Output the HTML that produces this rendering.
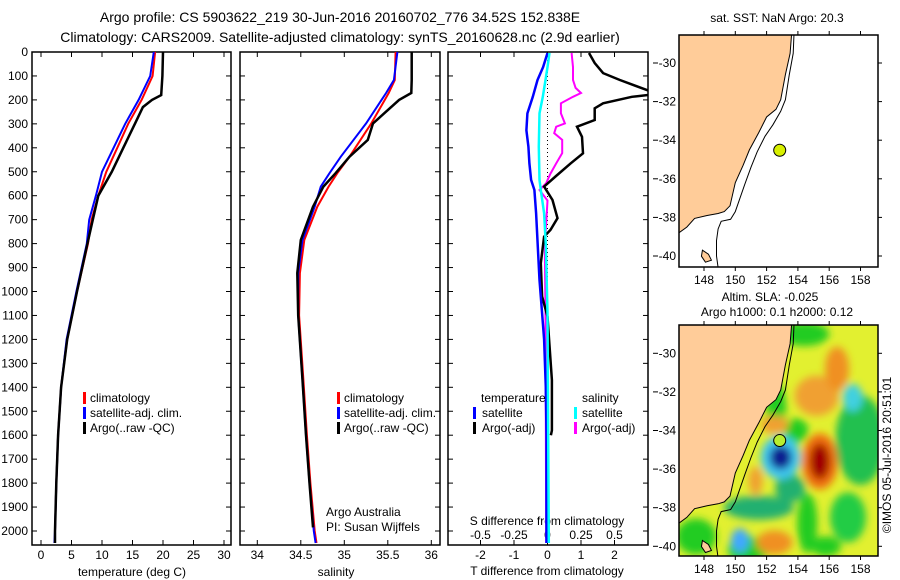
<!DOCTYPE html>
<html><head><meta charset="utf-8">
<style>
html,body{margin:0;padding:0;background:#fff;}
svg{display:block;font-family:"Liberation Sans",sans-serif;}
</style></head>
<body>
<svg id="fig" width="900" height="580" viewBox="0 0 900 580" xmlns="http://www.w3.org/2000/svg">
<defs>
<clipPath id="c1"><rect x="32" y="52" width="199" height="493"/></clipPath>
<clipPath id="c2"><rect x="240" y="52" width="200" height="493"/></clipPath>
<clipPath id="c3"><rect x="448" y="52" width="200" height="493"/></clipPath>
<clipPath id="cm1"><rect x="679" y="35" width="199" height="232"/></clipPath>
<clipPath id="cm2"><rect x="679" y="325" width="199" height="231"/></clipPath>
<filter id="blur" x="-50%" y="-50%" width="200%" height="200%"><feGaussianBlur stdDeviation="4"/></filter>
</defs>
<text x="340" y="22" font-size="14" text-anchor="middle">Argo profile: CS 5903622_219 30-Jun-2016 20160702_776 34.52S 152.838E</text>
<text x="340" y="42" font-size="14" text-anchor="middle">Climatology: CARS2009. Satellite-adjusted climatology: synTS_20160628.nc (2.9d earlier)</text>
<g id="root"></g>
</svg>
<script>
// ---------- data ----------
const depthTickLabels = [0,100,200,300,400,500,600,700,800,900,1000,1100,1200,1300,1400,1500,1600,1700,1800,1900,2000];
const tempTickLabels = [0,5,10,15,20,25,30];
const salTickLabels = [34,34.5,35,35.5,36];
const tdiffTickLabels = [-2,-1,0,1,2];
const sdiffTickLabels = [-0.5,-0.25,0,0.25,0.5];
const sdiffTickText = ["-0.5","-0.25","0","0.25","0.5"];

const argoTDepth = [0,100,180,200,230,300,400,500,600,700,800,1000,1200,1400,1600,1800,2000,2050];
const argoTemp = [20.0,19.9,19.7,18.2,16.7,15.4,13.5,11.6,9.4,8.5,7.6,5.9,4.3,3.3,2.8,2.5,2.3,2.3];
const climTDepth = [0,100,200,300,400,500,600,700,800,1000,1200,1400,1600,1800,2000,2050];
const climTemp = [18.7,18.3,16.5,14.3,12.5,10.7,9.4,8.3,7.7,5.9,4.3,3.3,2.8,2.5,2.3,2.3];
const satTemp = [18.5,17.9,16.0,13.8,11.9,10.0,9.0,7.9,7.5,5.8,4.2,3.3,2.8,2.5,2.3,2.2];

const argoSDepth = [0,117,171,200,298,367,437,506,562,646,785,923,1100,1370,1600,1800,1985];
const argoSal = [35.775,35.775,35.77,35.63,35.33,35.27,35.06,34.90,34.76,34.64,34.50,34.46,34.47,34.52,34.56,34.60,34.64];
const climSDepth = [0,117,171,298,437,506,562,646,785,923,1100,1370,1600,1800,2000,2050];
const climSal = [35.59,35.58,35.51,35.31,35.06,34.92,34.82,34.69,34.54,34.49,34.48,34.53,34.57,34.61,34.66,34.68];
const satSal = [35.61,35.57,35.48,35.25,34.96,34.83,34.73,34.66,34.52,34.47,34.47,34.52,34.56,34.60,34.65,34.67];

const satTdDepth = [4,63,117,187,256,327,395,465,534,576,673,813,952,1091,1200,1400,1600,2000,2050];
const satTdiff = [0,-0.13,-0.3,-0.44,-0.6,-0.63,-0.57,-0.54,-0.49,-0.39,-0.34,-0.29,-0.24,-0.16,-0.1,-0.05,-0.03,-0.03,-0.03];
const satSdDepth = [4,63,117,187,256,395,534,576,673,813,1091,2050];
const satSdiff = [0.015,0,-0.015,-0.035,-0.06,-0.065,-0.06,-0.05,-0.025,-0.012,0,0.01];
const argoSdDepth = [4,63,117,150,171,187,214,256,298,312,339,367,422,465,510,548,576,620,813,1091,2050];
const argoSdiff = [0.18,0.19,0.19,0.21,0.25,0.19,0.10,0.10,0.13,0.065,0.05,0.11,0.11,0.065,0.02,-0.01,-0.06,0,-0.02,-0.015,-0.01];
const argoTdDepth = [4,46,88,117,159,175,187,214,235,284,312,354,423,465,520,562,618,694,743,771,882,1021,1105,1370,1580,1600];
const argoTdiff = [1.24,1.41,1.66,2.16,2.97,3.3,2.52,1.66,1.41,1.41,0.88,1.03,1.06,0.69,0.24,-0.1,0.15,0.3,0.09,-0.1,-0.2,-0.16,0,0.13,0.13,0.1];

const lonTicks = [148,150,152,154,156,158];
const latTicks = [-30,-32,-34,-36,-38,-40];
const coastLon = [153.6,153.5,153.2,152.9,152.6,152.0,151.5,150.9,150.5,150.0,149.8,149.66,149.3,148.9,148.2,147.4,146.9,146.4];
const coastLat = [-28.5,-29.5,-30.6,-31.9,-32.4,-32.8,-33.6,-34.5,-35.3,-36.2,-36.9,-37.4,-37.7,-37.8,-37.9,-38.05,-38.5,-38.8];
const shelfLon = [153.75,153.7,153.45,153.2,152.9,152.4,151.9,151.4,151.0,150.6,150.3,150.0,149.7,149.1,148.9,148.8,148.8,148.9];
const shelfLat = [-28.5,-29.5,-30.6,-31.9,-32.5,-33.2,-33.8,-34.6,-35.4,-36.3,-37.0,-37.7,-38.1,-38.2,-38.6,-39.2,-40.0,-40.6];
const argoLon = 152.838, argoLat = -34.52;
const slaLon = [147.5,152.6,154.4,158.0,157.2,151.5,153.5,154.6,155.8,150.8,153.9,157.5,150.3,152.9,152.9,155.2,156.5,152.5,151.3,152.5,155.4,155.4];
const slaLat = [-39.5,-32.8,-29.0,-34.5,-38.5,-38.0,-37.0,-38.8,-40.0,-40.2,-34.0,-32.3,-39.7,-35.4,-35.4,-32.2,-30.8,-33.7,-36.6,-39.8,-35.6,-35.6];
const slaRx = [20,10,25,25,18,35,15,10,15,20,12,10,9,20,11,22,12,14,7,18,18,10];
const slaRy = [18,25,12,45,25,12,14,30,10,14,12,14,12,22,12,20,22,9,14,12,28,18];
const slaCol = ["#22cc22","#22cc22","#22cc22","#20c050","#22cc44","#20b070","#20b070","#22cc22","#22cc22","#22cc22","#22cc22","#40d0e0","#40a8ff","#40c8f0","#0a1a90","#f0a030","#f09020","#f0a030","#f0a030","#f09020","#f07010","#a00000"];

// ---------- helpers ----------
const NS = "http://www.w3.org/2000/svg";
const root = document.getElementById("root");
function mk(tag, attrs, parent, txt){
  const e = document.createElementNS(NS, tag);
  for (const k in attrs) e.setAttribute(k, attrs[k]);
  if (txt !== undefined) e.textContent = txt;
  (parent || root).appendChild(e);
  return e;
}
const yD = d => 52 + d * 0.2395;
const xT = t => 41 + t * 6.1;
const xS = s => 257.3 + (s - 34) * 87;
const xTD = t => 547.5 + t * 33.5;
const xSD = s => 547.5 + s * 134;
const mX = lon => 704 + (lon - 148) * 15.65;
const mY1 = lat => 63 + (-30 - lat) * 19.3;
const mY2 = lat => 353.3 + (-30 - lat) * 19.3;

function line(xs, ys, xf, color, w, clip, name){
  const pts = xs.map((v,i) => xf(v).toFixed(1) + "," + yD(ys[i]).toFixed(1)).join(" ");
  const p = mk("polyline", {points: pts, fill: "none", stroke: color, "stroke-width": w, "clip-path": "url(#"+clip+")", "stroke-linejoin": "miter"});
  
  
  return p;
}
function frame(x, y, w, h, name){
  const r = mk("rect", {x: x, y: y, width: w, height: h, fill: "none", stroke: "#000", "stroke-width": 1.5});
  
  
}
function depthTicks(x0, x1, withLabels){
  depthTickLabels.forEach(d => {
    const y = yD(d);
    mk("line", {x1: x0, y1: y, x2: x0 + 5, y2: y, stroke: "#000"});
    mk("line", {x1: x1, y1: y, x2: x1 - 5, y2: y, stroke: "#000"});
    if (withLabels) {
      const t = mk("text", {x: 28, y: y + 4, "font-size": 12, "text-anchor": "end"}, root, String(d));
      
      
    }
  });
}
function xTicks(vals, texts, xf, yTop, yBot, labelY, name){
  vals.forEach((v,i) => {
    const x = xf(v);
    mk("line", {x1: x, y1: yTop, x2: x, y2: yTop + 5, stroke: "#000"});
    mk("line", {x1: x, y1: yBot, x2: x, y2: yBot - 5, stroke: "#000"});
    const t = mk("text", {x: x, y: labelY, "font-size": 12, "text-anchor": "middle"}, root, texts[i]);
    
    
  });
}
function label(x, y, s, name, size, anchor){
  const t = mk("text", {x: x, y: y, "font-size": size || 12, "text-anchor": anchor || "start"}, root, s);
  
  
  return t;
}
function legendBar(x, y, color, name){
  const r = mk("rect", {x: x, y: y - 10, width: 3, height: 12, fill: color});
  
  
}

// ---------- panel 1: temperature ----------
frame(32, 52, 199, 493, "temperature-panel-frame");
depthTicks(32, 231, true);
xTicks(tempTickLabels, tempTickLabels.map(String), xT, 52, 545, 559, "temperature-tick-label");
label(132, 576, "temperature (deg C)", "temperature-axis-title", 12, "middle");
line(climTemp, climTDepth, xT, "#ff0000", 2, "c1", "temperature-climatology-line");
line(satTemp, climTDepth, xT, "#0000ff", 2, "c1", "temperature-satellite-line");
line(argoTemp, argoTDepth, xT, "#000000", 2.5, "c1", "temperature-argo-line");
legendBar(83, 402, "#ff0000", "legend-climatology-swatch");
label(90, 402, "climatology", "legend-climatology");
legendBar(83, 417, "#0000ff", "legend-satellite-swatch");
label(90, 417, "satellite-adj. clim.", "legend-satellite");
legendBar(83, 432, "#000000", "legend-argo-swatch");
label(90, 432, "Argo(..raw -QC)", "legend-argo");

// ---------- panel 2: salinity ----------
frame(240, 52, 200, 493, "salinity-panel-frame");
depthTicks(240, 440, false);
xTicks(salTickLabels, salTickLabels.map(String), xS, 52, 545, 559, "salinity-tick-label");
label(336, 576, "salinity", "salinity-axis-title", 12, "middle");
line(climSal, climSDepth, xS, "#ff0000", 2, "c2", "salinity-climatology-line");
line(satSal, climSDepth, xS, "#0000ff", 2, "c2", "salinity-satellite-line");
line(argoSal, argoSDepth, xS, "#000000", 2.5, "c2", "salinity-argo-line");
legendBar(337, 402, "#ff0000", "legend-climatology-swatch-2");
label(344, 402, "climatology", "legend-climatology-2");
legendBar(337, 417, "#0000ff", "legend-satellite-swatch-2");
label(344, 417, "satellite-adj. clim.", "legend-satellite-2");
legendBar(337, 432, "#000000", "legend-argo-swatch-2");
label(344, 432, "Argo(..raw -QC)", "legend-argo-2");
label(326, 516, "Argo Australia", "credit-argo-australia");
label(326, 531, "PI: Susan Wijffels", "credit-pi");

// ---------- panel 3: differences ----------
frame(448, 52, 200, 493, "difference-panel-frame");
depthTicks(448, 648, false);
tdiffTickLabels.forEach(v => {
  const x = xTD(v);
  mk("line", {x1: x, y1: 52, x2: x, y2: 57, stroke: "#000"});
  mk("line", {x1: x, y1: 545, x2: x, y2: 540, stroke: "#000"});
  label(x, 559, v < 0 ? "-" + Math.abs(v) : String(v), "t-diff-tick-label", 12, "middle");
});
sdiffTickLabels.forEach((v,i) => {
  label(xSD(v), 539, sdiffTickText[i], "s-diff-tick-label", 12, "middle");
});
label(547, 525, "S difference from climatology", "s-diff-axis-title", 12, "middle");
label(547, 575, "T difference from climatology", "t-diff-axis-title", 12, "middle");
const zl = mk("line", {x1: xTD(0), y1: 52, x2: xTD(0), y2: 545, stroke: "#000", "stroke-dasharray": "1,3"});


line(argoSdiff, argoSdDepth, xSD, "#ff00ff", 2, "c3", "salinity-argo-diff-line");
line(argoTdiff, argoTdDepth, xTD, "#000000", 2.5, "c3", "temperature-argo-diff-line");
line(satTdiff, satTdDepth, xTD, "#0000ff", 2.5, "c3", "temperature-satellite-diff-line");
line(satSdiff, satSdDepth, xSD, "#00ffff", 2.5, "c3", "salinity-satellite-diff-line");
label(481, 402, "temperature", "legend-temperature-header");
label(582, 402, "salinity", "legend-salinity-header");
legendBar(473, 417, "#0000ff", "legend-t-satellite-swatch");
label(482, 417, "satellite", "legend-t-satellite");
legendBar(473, 432, "#000000", "legend-t-argo-swatch");
label(482, 432, "Argo(-adj)", "legend-t-argo");
legendBar(574, 417, "#00ffff", "legend-s-satellite-swatch");
label(582, 417, "satellite", "legend-s-satellite");
legendBar(574, 432, "#ff00ff", "legend-s-argo-swatch");
label(582, 432, "Argo(-adj)", "legend-s-argo");

// ---------- maps ----------
function drawMap(x0, y0, h, yf, clip, withSLA, prefix){
  const g = mk("g", {"clip-path": "url(#"+clip+")"});
  
  
  mk("rect", {x: x0, y: y0, width: 199, height: h, fill: withSLA ? "#e2f030" : "#ffffff"}, g);
  if (withSLA) {
    const bg = mk("g", {filter: "url(#blur)"}, g);
    slaLon.forEach((lo,i) => {
      const e = mk("ellipse", {cx: mX(lo), cy: yf(slaLat[i]), rx: slaRx[i], ry: slaRy[i], fill: slaCol[i]}, bg);
      
      
    });
  }
  let pts = coastLon.map((lo,i) => mX(lo).toFixed(1) + "," + yf(coastLat[i]).toFixed(1));
  pts.push(mX(146.3).toFixed(1) + "," + yf(-28.4).toFixed(1));
  const land = mk("polygon", {points: pts.join(" "), fill: "#ffcc99", stroke: "#000", "stroke-width": 1}, g);
  
  
  const tas = mk("path", {d: "M" + mX(147.9) + "," + yf(-39.7) + " l6,4 l3,6 l-6,2 l-4,-6 z", fill: "#ffcc99", stroke: "#000"}, g);
  
  
  const sp = shelfLon.map((lo,i) => mX(lo).toFixed(1) + "," + yf(shelfLat[i]).toFixed(1)).join(" ");
  const sh = mk("polyline", {points: sp, fill: "none", stroke: "#000", "stroke-width": 1}, g);
  
  
  const dot = mk("circle", {cx: mX(argoLon), cy: yf(argoLat), r: 6, fill: withSLA ? "#b8ee30" : "#d8f000", stroke: "#000"});
  
  
  frame(x0, y0, 199, h, prefix + "-map-frame");
  lonTicks.forEach(lo => {
    const x = mX(lo);
    mk("line", {x1: x, y1: y0, x2: x, y2: y0 - 4, stroke: "#000"});
    mk("line", {x1: x, y1: y0 + h, x2: x, y2: y0 + h + 4, stroke: "#000"});
    label(x, y0 + h + 17, String(lo), prefix + "-lon-tick-label", 12, "middle");
  });
  latTicks.forEach(la => {
    const y = yf(la);
    mk("line", {x1: x0 + 199, y1: y, x2: x0 + 203, y2: y, stroke: "#000"});
    mk("line", {x1: 653, y1: y, x2: 658, y2: y, stroke: "#000"});
    label(x0 - 3, y + 4, "-" + Math.abs(la), prefix + "-lat-tick-label", 12, "end");
  });
}
label(777, 22, "sat. SST: NaN Argo: 20.3", "sst-map-title", 12, "middle");
drawMap(679, 35, 232, mY1, "cm1", false, "sst");
label(770, 301, "Altim. SLA: -0.025", "sla-map-title", 12, "middle");
label(777, 316, "Argo h1000: 0.1 h2000: 0.12", "sla-map-subtitle", 12, "middle");
drawMap(679, 325, 231, mY2, "cm2", true, "sla");
const cr = label(0, 0, "\u00a9IMOS 05-Jul-2016 20:51:01", "imos-timestamp", 12, "middle");
cr.setAttribute("transform", "translate(891,455) rotate(-90)");
</script>
</body></html>
